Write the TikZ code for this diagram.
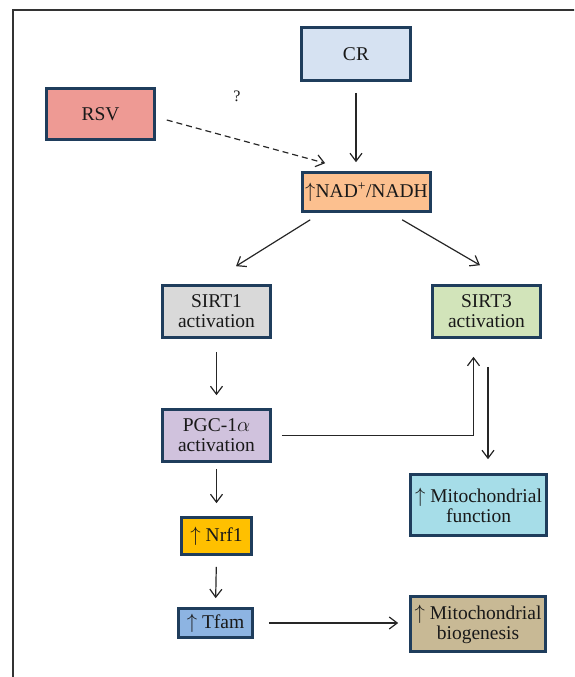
\documentclass[tikz,border=0pt]{standalone}
\usepackage{fontspec}
\setmainfont{Liberation Serif}
\usepackage{xcolor}
\usetikzlibrary{positioning,arrows.meta,calc}

\definecolor{boxline}{HTML}{1F3D5C}
\definecolor{crfill}{HTML}{D6E2F2}
\definecolor{rsvfill}{HTML}{EE9A94}
\definecolor{nadfill}{HTML}{FCC08F}
\definecolor{sirtonefill}{HTML}{D9D9D9}
\definecolor{sirtthreefill}{HTML}{D2E4BA}
\definecolor{pgcfill}{HTML}{D0C2DD}
\definecolor{nrffill}{HTML}{FFC000}
\definecolor{tfamfill}{HTML}{8DB4E2}
\definecolor{mitffill}{HTML}{A6DDE8}
\definecolor{mitbfill}{HTML}{C8B995}

\begin{document}
\begin{tikzpicture}[x=1pt, y=-1pt,
    box/.style={draw=boxline, line width=2.6pt, align=center, inner sep=0pt, text=black!90,
                font=\fontsize{19.5}{20}\selectfont},
    arr/.style={-{Straight Barb[length=8pt,width=12pt]}, line width=1.2pt, black!85},
    frame/.style={line width=2pt, black!80}]
    % Page size and outer frame (cut at the right and bottom)
    \useasboundingbox (0,0) rectangle (574,677);
    \begin{scope}
        \clip (0,0) rectangle (574,677);
        \draw[frame] (590,10) -- (12.5,10) -- (12.5,690);
    \end{scope}

    % Boxes
    \node[box, fill=crfill, minimum width=109pt, minimum height=53pt] (cr) at (356,54) {CR};
    \node[box, fill=rsvfill, minimum width=108pt, minimum height=51pt] (rsv) at (100.5,114) {RSV};
    \node[box, fill=nadfill, minimum width=128pt, minimum height=39pt] (nad) at (366.5,192) {$\uparrow$NAD\textsuperscript{+}/NADH};
    \node[box, fill=sirtonefill, minimum width=108pt, minimum height=52pt] (sirt1) at (216.5,311.5) {SIRT1\\activation};
    \node[box, fill=sirtthreefill, minimum width=108pt, minimum height=52pt] (sirt3) at (486.5,311.5) {SIRT3\\activation};
    \node[box, fill=pgcfill, minimum width=108pt, minimum height=52pt] (pgc) at (216.5,435.5) {PGC-1$\alpha$\\activation};
    \node[box, fill=nrffill, minimum width=70pt, minimum height=37pt] (nrf) at (216.5,536) {$\uparrow$ Nrf1};
    \node[box, fill=tfamfill, minimum width=74pt, minimum height=29pt] (tfam) at (215.5,623) {$\uparrow$ Tfam};
    \node[box, fill=mitffill, minimum width=136pt, minimum height=61pt] (mitf) at (478.5,505) {$\uparrow$ Mitochondrial\\function};
    \node[box, fill=mitbfill, minimum width=135pt, minimum height=55pt] (mitb) at (478,624) {$\uparrow$ Mitochondrial\\biogenesis};

    % Unknown link
    \node[font=\fontsize{16}{18}\selectfont, text=black!90] (q) at (237,96) {?};

    % Connectors
    \draw[arr, shorten <=11pt, shorten >=9pt] (cr.south) -- (cr.south |- nad.north);
    \draw[arr, dash pattern=on 6pt off 4pt] ($(rsv.east)+(11,6)$) -- ($(nad.north west)+(24,-8)$);
    \draw[arr] ($(nad.south west)+(9,7)$) -- ($(sirt1.north)+(19.5,-18)$);
    \draw[arr] ($(nad.south west)+(101,7)$) -- ($(sirt3.north)+(-6.5,-19)$);
    \draw[arr, shorten <=13pt, shorten >=13pt] (sirt1.south) -- (pgc.north);
    \draw[arr, shorten <=28pt, shorten >=14pt] ($(sirt3.south)+(1.5,0)$) -- ($(mitf.north)+(9.5,0)$);
    \draw[arr] ($(pgc.east)+(10,0)$) -| ($(sirt3.south)+(-13,18)$);
    \draw[arr, shorten <=6pt, shorten >=13pt] (pgc.south) -- (nrf.north);
    \draw[arr, shorten <=11pt, shorten >=9pt] (nrf.south) -- (tfam.north);
    \draw[arr, shorten <=15pt, shorten >=11pt] (tfam.east) -- (tfam.east -| mitb.west);
\end{tikzpicture}
\end{document}
